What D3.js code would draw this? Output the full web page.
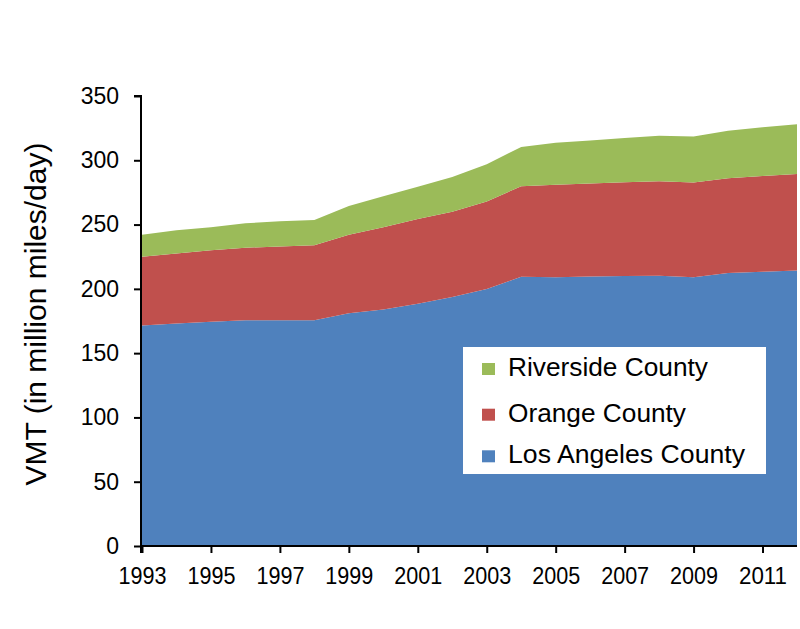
<!DOCTYPE html>
<html>
<head>
    <meta charset="utf-8" />
    <title>VMT by County</title>
    <script src="https://cdn.jsdelivr.net/npm/d3@7/dist/d3.min.js" charset="utf-8"></script>
    <style>
        html, body {
            margin: 0;
            padding: 0;
            background: #fff;
        }
        text {
            font-family: "Liberation Sans", Arial, Helvetica, sans-serif;
        }
    </style>
</head>
<body>
</body>
<script charset="utf-8">

    var width = 800;
    var height = 629;

    // data
    var years = [1993, 1994, 1995, 1996, 1997, 1998, 1999, 2000, 2001, 2002,
                 2003, 2004, 2005, 2006, 2007, 2008, 2009, 2010, 2011, 2012];
    var losAngeles = [171.5, 173, 174.5, 175.5, 175.5, 175.6, 181, 184, 188.4, 193.6,
                      199.8, 209.4, 209, 209.6, 210, 210.2, 209, 212.3, 213.3, 214.3];
    var orange = [53.5, 54.5, 55.5, 56.5, 57.5, 58.4, 61, 64, 66, 66.4,
                  68.2, 70.4, 72, 72.4, 73, 73.4, 73.8, 73.7, 74.5, 75];
    var riverside = [17, 18, 18, 19, 19.5, 19.5, 22.5, 24, 25, 27,
                     29, 30.5, 32.6, 33.3, 34.4, 35.4, 35.7, 37, 37.8, 38.7];
    var seriesNames = ['Los Angeles County', 'Orange County', 'Riverside County'];
    var seriesColors = ['#4F81BD', '#C0504D', '#9BBB59'];
    var yTicks = [0, 50, 100, 150, 200, 250, 300, 350];
    var xTicks = [1993, 1995, 1997, 1999, 2001, 2003, 2005, 2007, 2009, 2011];

    var svg = d3.select('body').append('svg').attr('width', width).attr('height', height);

    var margin = {left: 141, right: 797, top: 96, bottom: 546};

    var x = d3.scaleLinear().domain([1993, 2012]).range([margin.left + 1, margin.right]);
    var y = d3.scaleLinear().domain([0, 350]).range([margin.bottom, margin.top]);

    // table for the stack layout
    var table = years.map(function(yr, i) {
        return {year: yr, la: losAngeles[i], orange: orange[i], riverside: riverside[i]};
    });
    var stack = d3.stack().keys(['la', 'orange', 'riverside']);
    var layers = stack(table);

    var area = d3.area()
        .x(function(d) { return x(d.data.year); })
        .y0(function(d) { return y(d[0]); })
        .y1(function(d) { return y(d[1]); });

    svg.append('g').selectAll('path').data(layers).enter().append('path')
        .attr('d', area)
        .attr('fill', function(d, i) { return seriesColors[i]; });

    // y axis
    var yAxis = d3.axisLeft(y).tickValues(yTicks).tickSize(7).tickPadding(15);
    var gy = svg.append('g').attr('transform', 'translate(' + margin.left + ',0)').call(yAxis);
    gy.select('.domain').attr('stroke', '#000').attr('stroke-width', 2)
        .attr('d', 'M-7,' + y(350) + 'H0V' + (y(0) + 7));
    gy.selectAll('.tick line').attr('stroke', '#000').attr('stroke-width', 2);
    gy.selectAll('.tick text').attr('font-size', 23).attr('fill', '#000')
        .attr('font-family', '"Liberation Sans", Arial, sans-serif');

    // x axis
    var xAxis = d3.axisBottom(x).tickValues(xTicks).tickSize(7).tickPadding(14)
        .tickFormat(d3.format('d'));
    var gx = svg.append('g').attr('transform', 'translate(0,' + margin.bottom + ')').call(xAxis);
    gx.select('.domain').attr('stroke', '#000').attr('stroke-width', 2)
        .attr('d', 'M' + (margin.left - 1) + ',0H' + margin.right);
    gx.selectAll('.tick line').attr('stroke', '#000').attr('stroke-width', 2);
    gx.selectAll('.tick text').attr('font-size', 24.5).attr('fill', '#000')
        .attr('font-family', '"Liberation Sans", Arial, sans-serif')
        .attr('textLength', 48).attr('lengthAdjust', 'spacingAndGlyphs');

    // y axis title
    svg.append('text')
        .attr('transform', 'translate(46,314) rotate(-90)')
        .attr('text-anchor', 'middle')
        .attr('font-size', 30)
        .attr('fill', '#000')
        .text('VMT (in million miles/day)');

    // legend
    var legend = svg.append('g').attr('transform', 'translate(463,347)');
    legend.append('rect').attr('width', 303).attr('height', 127).attr('fill', '#fff');
    var legendOrder = [2, 1, 0];
    var legendWidths = [237, 178, 200];
    var legendBase = [29, 74.7, 116.3];
    legendOrder.forEach(function(k, i) {
        legend.append('rect').attr('x', 19).attr('y', legendBase[i] - 13).attr('width', 13).attr('height', 12)
            .attr('fill', seriesColors[k]);
        legend.append('text').attr('x', 45).attr('y', legendBase[i]).attr('font-size', 25)
            .attr('textLength', legendWidths[k]).attr('lengthAdjust', 'spacingAndGlyphs')
            .attr('fill', '#000').text(seriesNames[k]);
    });

</script>
</html>
